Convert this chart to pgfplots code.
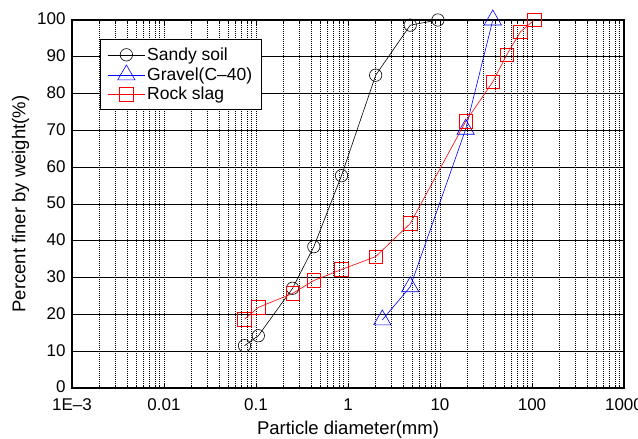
\documentclass[border=0pt]{standalone}
\usepackage{fontspec}
\setmainfont{Liberation Sans}
\usepackage{pgfplots}
\pgfplotsset{compat=1.18}
\begin{document}
\begin{tikzpicture}[font=\fontsize{17}{20}\selectfont]
\begin{axis}[
 scale only axis, width=552pt, height=368pt,
 xmode=log, xmin=1e-3, xmax=1000, ymin=0, ymax=100,
 xtick={1e-3,0.01,0.1,1,10,100,1000},
 xticklabels={1E–3,0.01,0.1,1,10,100,1000},
 ytick={0,10,...,100},
 /pgf/number format/assume math mode=true,
 tick label style={font=\fontsize{17}{20}\selectfont},
 xticklabel style={yshift=-7pt},
 yticklabel style={xshift=-3pt, yshift=1pt},
 grid=both,
 major y grid style={black, line width=0.9pt},
 major x grid style={black, line width=0.8pt, dash pattern=on 1pt off 1pt},
 minor x grid style={black, line width=0.8pt, dash pattern=on 1pt off 1pt},
 axis line style={line width=1.4pt},
 tick align=inside,
 tick style={black, line width=0.8pt},
 major tick length=5pt, minor tick length=3pt,
 xlabel={Particle diameter(mm)},
 ylabel={Percent finer by weight(\%)},
 label style={font=\fontsize{18.5}{22}\selectfont},
 xlabel style={yshift=-3.5pt},
 ylabel style={yshift=1pt},
 legend style={at={(rel axis cs:0.0507,0.948)}, anchor=north west, draw=black, line width=1.2pt, fill=white,
   font=\fontsize{17.5}{21}\selectfont, row sep=1pt, inner xsep=7pt, inner ysep=6pt},
 legend cell align=left,
 legend image code/.code={\draw[mark repeat=2,mark phase=2] plot coordinates {(0cm,0cm)(0.65cm,0cm)(1.3cm,0cm)};},
]
\addplot[black, line width=0.6pt, mark=o, mark size=6.2pt, mark options={fill=white, solid}] coordinates {
(0.075,11.5) (0.106,14.2) (0.25,27.1) (0.425,38.4) (0.85,57.7) (2,85.0) (4.75,98.6) (9.5,100)
};
\addlegendentry{Sandy soil}
\addplot[blue, line width=0.6pt, mark=triangle, mark size=10pt, mark options={fill=white, solid}] coordinates {
(2.36,18.5) (4.75,27.5) (19,70.3) (37.5,100)
};
\addlegendentry{Gravel(C–40)}
\addplot[red, line width=0.6pt, mark=square, mark size=6.8pt, mark options={fill=white, solid}] coordinates {
(0.075,18.7) (0.106,21.9) (0.25,25.7) (0.425,29.2) (0.85,32.2) (2,35.7) (4.75,44.7) (19,72.4) (37.5,83.2) (53,90.5) (75,96.8) (106,100)
};
\addlegendentry{Rock slag}
\end{axis}
\pgfresetboundingbox
\useasboundingbox (-72pt,-51pt) rectangle (566pt,388pt);
\end{tikzpicture}
\end{document}
